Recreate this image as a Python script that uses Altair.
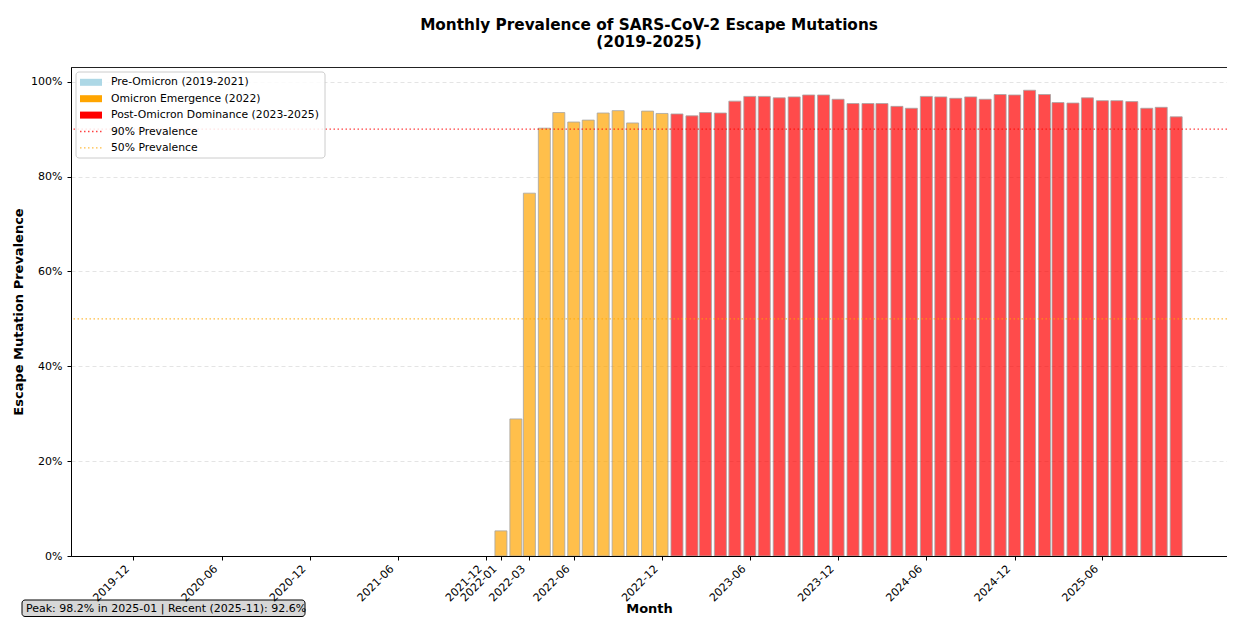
import altair as alt
import pandas as pd

# ---------------- data ----------------
pre_months = pd.period_range("2019-12", "2021-12", freq="M").strftime("%Y-%m").tolist()
pre_values = [0.0] * len(pre_months)

omicron_months = pd.period_range("2022-01", "2022-12", freq="M").strftime("%Y-%m").tolist()
omicron_values = [5.3, 28.9, 76.5, 90.2, 93.5, 91.5, 91.9, 93.4, 93.9, 91.3, 93.8, 93.3]

post_months = pd.period_range("2023-01", "2025-11", freq="M").strftime("%Y-%m").tolist()
post_values = [
    93.2, 92.8, 93.5, 93.4, 95.9, 96.9, 96.9, 96.6, 96.8, 97.2, 97.2, 96.3,  # 2023
    95.4, 95.4, 95.4, 94.8, 94.4, 96.9, 96.8, 96.5, 96.8, 96.3, 97.3, 97.2,  # 2024
    98.2, 97.3, 95.6, 95.5, 96.6, 96.0, 96.0, 95.8, 94.4, 94.6, 92.6,        # 2025
]

periods = ["Pre-Omicron (2019-2021)", "Omicron Emergence (2022)", "Post-Omicron Dominance (2023-2025)"]
period_colors = ["#ADD8E6", "#FFA500", "#FF0000"]

ref_labels = ["90% Prevalence", "50% Prevalence"]
ref_values = [90, 50]
ref_colors = ["#FF0000", "#FFA500"]

tick_months = ["2019-12", "2020-06", "2020-12", "2021-06", "2021-12", "2022-01", "2022-03",
               "2022-06", "2022-12", "2023-06", "2023-12", "2024-06", "2024-12", "2025-06"]
x_domain = ["2019-08-04", "2026-02-04"]
y_ticks = [0, 20, 40, 60, 80, 100]


def ms(s):
    if len(s) == 7:
        s = s + "-01"
    return int(pd.Timestamp(s, tz="UTC").value // 10**6)


rows = []
for months, values, period in [(pre_months, pre_values, periods[0]),
                               (omicron_months, omicron_values, periods[1]),
                               (post_months, post_values, periods[2])]:
    for m, v in zip(months, values):
        rows.append({"month": m, "date": ms(m), "value": v / 100.0, "period": period})
df = pd.DataFrame(rows)

all_months = omicron_months + post_months
all_vals = omicron_values + post_values
peak_i = max(range(len(all_vals)), key=lambda i: all_vals[i])
footer = (f"Peak: {all_vals[peak_i]:.1f}% in {all_months[peak_i]} | "
          f"Recent ({all_months[-1]}): {all_vals[-1]:.1f}%")

FONT = "DejaVu Sans"
W, H = 1156, 489

x_enc = alt.X(
    "date:T",
    scale=alt.Scale(type="utc", domain=[ms(x_domain[0]), ms(x_domain[1])]),
    axis=alt.Axis(
        values=[ms(t) for t in tick_months],
        labelExpr="utcFormat(datum.value, '%Y-%m')",
        labelAngle=-45, labelAlign="right", labelBaseline="middle",
        labelOverlap=False, labelFlush=False, labelBound=False,
        labelFontSize=11, labelColor="#000", labelPadding=7, labelOffset=-6,
        tickSize=4, tickColor="#000", domainColor="#000", grid=False, zindex=1,
        title="Month", titleFontSize=13, titleFontWeight="bold", titleColor="#000",
        titleY=52, titleBaseline="middle",
    ),
)
y_enc = alt.Y(
    "value:Q",
    scale=alt.Scale(domain=[0, 1.031], nice=False, zero=True),
    axis=alt.Axis(
        values=[t / 100 for t in y_ticks], format=".0%",
        labelFontSize=11, labelColor="#000", labelPadding=5,
        tickSize=4, tickColor="#000", domainColor="#000",
        grid=True, gridColor="#dddddd", gridDash=[4, 3], gridWidth=0.8,
        title="Escape Mutation Prevalence", titleFontSize=13, titleFontWeight="bold",
        titleColor="#000", titleX=-53, titleY=H / 2, titleAngle=-90,
        titleAlign="center", titleBaseline="middle",
    ),
)

bars = alt.Chart(df).mark_bar(size=12, opacity=0.7, stroke="#808080").encode(
    x=x_enc,
    y=y_enc,
    color=alt.Color("period:N", scale=alt.Scale(domain=periods, range=period_colors), legend=None),
    strokeWidth=alt.condition("datum.value > 0", alt.value(0.8), alt.value(0)),
)

ref_df = pd.DataFrame({"label": ref_labels, "y": [v / 100 for v in ref_values], "color": ref_colors})
refs = alt.Chart(ref_df).mark_rule(strokeDash=[1.5, 2.5], strokeWidth=1.4, opacity=0.75).encode(
    y="y:Q",
    color=alt.Color("color:N", scale=None),
)

# ---------------- manual legend ----------------
leg_df = pd.DataFrame({
    "label": periods + ref_labels,
    "color": period_colors + ref_colors,
    "kind": ["patch"] * len(periods) + ["line"] * len(ref_labels),
    "row": list(range(len(periods) + len(ref_labels))),
})
one = pd.DataFrame({"a": [0]})
leg_box = alt.Chart(one).mark_rect(
    fill="white", fillOpacity=0.85, stroke="#cccccc", strokeWidth=1, cornerRadius=3
).encode(x=alt.value(5), x2=alt.value(254), y=alt.value(5), y2=alt.value(91))

leg_base = alt.Chart(leg_df).transform_calculate(
    yp="datum.row * 16.4 + 15.3", y1="datum.row * 16.4 + 15.3 - 3.5", y2="datum.row * 16.4 + 15.3 + 3.5"
)
leg_patch = leg_base.transform_filter("datum.kind == 'patch'").mark_rect().encode(
    x=alt.value(9), x2=alt.value(31),
    y=alt.Y("y1:Q", scale=None), y2="y2:Q",
    color=alt.Color("color:N", scale=None),
)
leg_line = leg_base.transform_filter("datum.kind == 'line'").mark_rule(
    strokeDash=[1.5, 2.5], strokeWidth=1.4, opacity=0.75
).encode(
    x=alt.value(9), x2=alt.value(31),
    y=alt.Y("yp:Q", scale=None),
    color=alt.Color("color:N", scale=None),
)
leg_text = leg_base.mark_text(align="left", baseline="middle", fontSize=10.8, font=FONT, color="#000").encode(
    x=alt.value(40), y=alt.Y("yp:Q", scale=None), text="label:N"
)

# ---------------- footer ----------------
foot_box = alt.Chart(one).mark_rect(
    fill="#d3d3d3", fillOpacity=0.9, stroke="#000", strokeWidth=1, cornerRadius=3
).encode(x=alt.value(-49), x2=alt.value(234), y=alt.value(533), y2=alt.value(549.5))
foot_text = alt.Chart(pd.DataFrame({"t": [footer]})).mark_text(
    align="left", baseline="middle", fontSize=11, font=FONT, color="#000"
).encode(x=alt.value(-45), y=alt.value(541.5), text="t:N")

chart = alt.layer(
    bars, refs, leg_box, leg_patch, leg_line, leg_text, foot_box, foot_text
).properties(
    width=W, height=H,
    autosize=alt.AutoSizeParams(type="none"),
    padding={"left": 63, "top": 59, "right": 0, "bottom": 62},
    title=alt.Title(
        text=["Monthly Prevalence of SARS-CoV-2 Escape Mutations", "(2019-2025)"],
        fontSize=15.3, fontWeight="bold", font=FONT, color="#000",
        anchor="middle", offset=17, lineHeight=17,
    ),
).configure(font=FONT).configure_view(stroke="#222", strokeWidth=1)

chart.save("out.html", embed_options={"renderer": "svg", "actions": False})
